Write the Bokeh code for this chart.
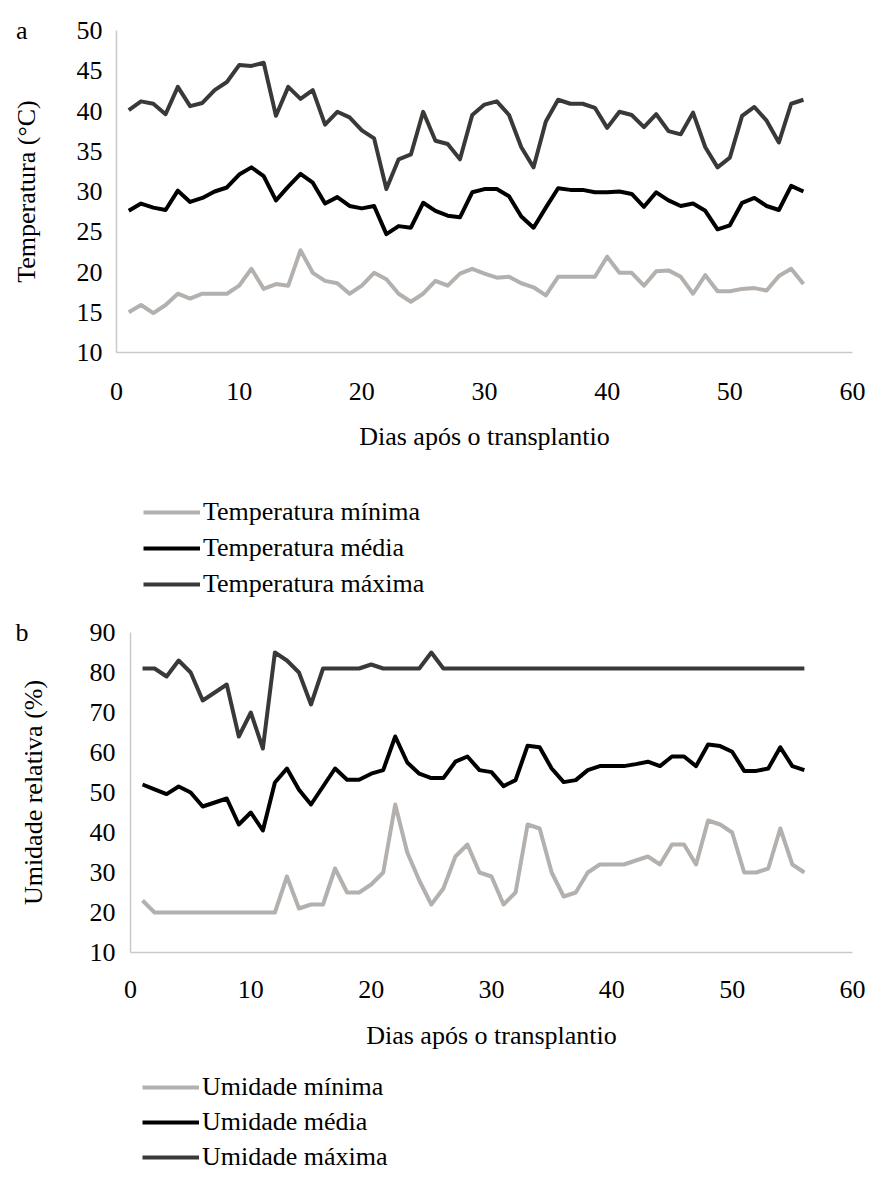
from bokeh.plotting import figure
from bokeh.models import Legend, LegendItem, LinearAxis, FixedTicker, ColumnDataSource
from bokeh.layouts import column
from bokeh.embed import file_html
from bokeh.resources import INLINE

days = list(range(1, 57))

temp_min = [15.0, 15.9, 14.9, 15.9, 17.3, 16.7, 17.3, 17.3, 17.3, 18.3,
            20.4, 17.9, 18.5, 18.3, 22.7, 19.9, 18.9, 18.6, 17.3, 18.3,
            19.9, 19.1, 17.3, 16.3, 17.3, 18.9, 18.3, 19.8, 20.4, 19.8,
            19.3, 19.4, 18.6, 18.1, 17.1, 19.4, 19.4, 19.4, 19.4, 21.9,
            19.9, 19.9, 18.3, 20.1, 20.2, 19.4, 17.3, 19.6, 17.6, 17.6,
            17.9, 18.0, 17.7, 19.5, 20.4, 18.5]
temp_mean = [27.6, 28.5, 28.0, 27.7, 30.1, 28.7, 29.2, 30.0, 30.5, 32.1,
             33.0, 31.9, 28.9, 30.6, 32.2, 31.1, 28.5, 29.3, 28.2, 27.9,
             28.2, 24.7, 25.7, 25.5, 28.6, 27.6, 27.0, 26.8, 29.9, 30.3,
             30.3, 29.4, 26.9, 25.5, 28.0, 30.4, 30.2, 30.2, 29.9, 29.9,
             30.0, 29.7, 28.1, 29.9, 28.9, 28.2, 28.5, 27.6, 25.3, 25.8,
             28.6, 29.2, 28.2, 27.7, 30.7, 30.0]
temp_max = [40.1, 41.2, 40.9, 39.6, 43.0, 40.6, 41.0, 42.6, 43.6, 45.7,
            45.6, 46.0, 39.4, 43.0, 41.5, 42.6, 38.3, 39.9, 39.2, 37.6,
            36.6, 30.3, 34.0, 34.6, 39.9, 36.3, 35.9, 34.0, 39.5, 40.8,
            41.2, 39.5, 35.5, 33.0, 38.7, 41.4, 40.9, 40.9, 40.4, 37.9,
            39.9, 39.5, 38.0, 39.6, 37.5, 37.1, 39.8, 35.5, 33.0, 34.2,
            39.4, 40.5, 38.8, 36.1, 40.9, 41.4]

hum_min = [23, 20, 20, 20, 20, 20, 20, 20, 20, 20,
           20, 20, 29, 21, 22, 22, 31, 25, 25, 27,
           30, 47, 35, 28, 22, 26, 34, 37, 30, 29,
           22, 25, 42, 41, 30, 24, 25, 30, 32, 32,
           32, 33, 34, 32, 37, 37, 32, 43, 42, 40,
           30, 30, 31, 41, 32, 30]
hum_mean = [52.0, 50.8, 49.6, 51.5, 50.0, 46.5, 47.5, 48.5, 42.0, 45.0,
            40.5, 52.5, 56.0, 50.7, 47.0, 51.5, 56.0, 53.2, 53.2, 54.7,
            55.6, 64.0, 57.5, 54.7, 53.6, 53.6, 57.7, 59.0, 55.6, 55.1,
            51.6, 53.1, 61.7, 61.3, 56.0, 52.6, 53.1, 55.6, 56.6, 56.6,
            56.6, 57.1, 57.7, 56.6, 59.0, 59.0, 56.6, 62.0, 61.6, 60.2,
            55.4, 55.4, 56.0, 61.3, 56.6, 55.6]
hum_max = [81, 81, 79, 83, 80, 73, 75, 77, 64, 70,
           61, 85, 83, 80, 72, 81, 81, 81, 81, 82,
           81, 81, 81, 81, 85, 81, 81, 81, 81, 81,
           81, 81, 81, 81, 81, 81, 81, 81, 81, 81,
           81, 81, 81, 81, 81, 81, 81, 81, 81, 81,
           81, 81, 81, 81, 81, 81]

x_ticks = [0, 10, 20, 30, 40, 50, 60]
temp_ticks = [10, 15, 20, 25, 30, 35, 40, 45, 50]
hum_ticks = [10, 20, 30, 40, 50, 60, 70, 80, 90]

temp_labels = ["Temperatura mínima", "Temperatura média", "Temperatura máxima"]
hum_labels = ["Umidade mínima", "Umidade média", "Umidade máxima"]

FONT = "Liberation Serif"
FS = "26px"
COLORS = ["#b3b0ae", "#000000", "#3a3937"]
AXIS_C = "#c9c9c9"


def style_axis(ax):
    ax.major_tick_line_color = None
    ax.minor_tick_line_color = None
    ax.major_tick_out = 0
    ax.major_tick_in = 0
    ax.minor_tick_out = 0
    ax.minor_tick_in = 0
    ax.major_label_text_font = FONT
    ax.major_label_text_font_size = FS
    ax.major_label_text_color = "black"
    ax.axis_label_text_font = FONT
    ax.axis_label_text_font_size = FS
    ax.axis_label_text_font_style = "normal"
    ax.axis_label_text_color = "black"


def make_chart(series, y_range, y_ticks, y_title, letter, width, height, shift,
               border_top, border_bottom, lab_standoff,
               letter_standoff, title_standoff, xlab_standoff, xtitle_standoff):
    p = figure(width=width, height=height, x_range=(0, 60), y_range=y_range,
               output_backend="svg", toolbar_location=None,
               min_border_left=116, min_border_right=14,
               min_border_top=border_top, min_border_bottom=border_bottom,
               margin=(0, 0, 0, shift))
    p.outline_line_color = None
    p.xgrid.visible = False
    p.ygrid.visible = False

    src = ColumnDataSource(dict(day=days, s0=series[0], s1=series[1], s2=series[2]))
    for i, col in enumerate(["s0", "s1", "s2"]):
        p.line("day", col, source=src, line_color=COLORS[i], line_width=4,
               line_join="round")

    p.xaxis.ticker = FixedTicker(ticks=x_ticks)
    p.yaxis.ticker = FixedTicker(ticks=y_ticks)
    for ax in (p.xaxis[0], p.yaxis[0]):
        style_axis(ax)
        ax.axis_line_color = AXIS_C
        ax.axis_line_width = 1.5
    p.xaxis.axis_label = "Dias após o transplantio"
    p.yaxis.major_label_standoff = lab_standoff
    p.xaxis.major_label_standoff = xlab_standoff
    p.xaxis.axis_label_standoff = xtitle_standoff

    # outer left axis: panel letter at the top tick, plus the y title
    outer = LinearAxis(ticker=FixedTicker(ticks=[y_range[1]]),
                       major_label_overrides={y_range[1]: letter},
                       axis_label=y_title, axis_line_color=None)
    style_axis(outer)
    outer.major_label_standoff = letter_standoff
    outer.axis_label_standoff = title_standoff
    p.add_layout(outer, "left")
    return p


def make_legend(series, labels, width, height, shift, margin, spacing):
    q = figure(width=width, height=height, x_range=(-3, -2), y_range=(-3, -2),
               output_backend="svg", toolbar_location=None,
               min_border_left=116, min_border_right=0,
               min_border_top=0, min_border_bottom=0,
               margin=(0, 0, 0, shift))
    q.outline_line_color = None
    q.xgrid.visible = False
    q.ygrid.visible = False
    q.axis.visible = False
    # the series lie outside this panel's ranges: only the legend keys show
    src = ColumnDataSource(dict(day=days, s0=series[0], s1=series[1], s2=series[2]))
    rs = [q.line("day", col, source=src, line_color=COLORS[i], line_width=4)
          for i, col in enumerate(["s0", "s1", "s2"])]
    legend = Legend(items=[LegendItem(label=labels[i], renderers=[rs[i]]) for i in range(3)],
                    location="top_left")
    legend.label_text_font = FONT
    legend.label_text_font_size = FS
    legend.label_text_color = "black"
    legend.glyph_width = 57
    legend.glyph_height = 20
    legend.label_standoff = 3
    legend.spacing = spacing
    legend.padding = 0
    legend.margin = margin
    legend.border_line_color = None
    legend.background_fill_alpha = 0
    q.add_layout(legend)
    return q


p1 = make_chart([temp_min, temp_mean, temp_max], (10, 50), temp_ticks,
                "Temperatura (°C)", "a", 866, 470, 0, 30, 118,
                14, 46, -28, 30, 19)
l1 = make_legend([temp_min, temp_mean, temp_max], temp_labels, 866, 130, 0, 27, 6)
p2 = make_chart([hum_min, hum_mean, hum_max], (10, 90), hum_ticks,
                "Umidade relativa (%)", "b", 852, 460, 14, 32, 108,
                15, 58, -35, 28, 20)
l2 = make_legend([hum_min, hum_mean, hum_max], hum_labels, 852, 122, 14, 12, 5)

layout = column(p1, l1, p2, l2, spacing=0)
open("out.html", "w").write(file_html(layout, INLINE))
